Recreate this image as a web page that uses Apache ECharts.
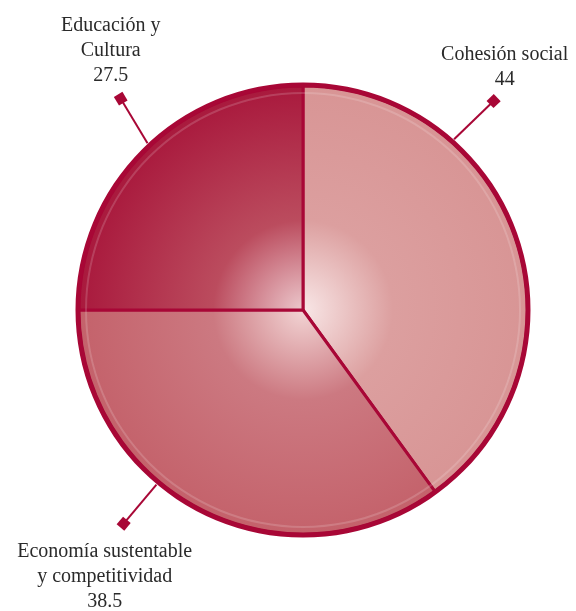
<!DOCTYPE html>
<html>
<head>
<meta charset="utf-8">
<script src="https://cdn.jsdelivr.net/npm/echarts@6/dist/echarts.min.js"></script>
<style>
  html, body { margin: 0; padding: 0; background: #fff; }
  #chart { width: 576px; height: 611px; }
</style>
</head>
<body>
<div id="chart"></div>
<script>
// Budget shares by axis
const categories = ['Cohesión social', 'Economía sustentable\ny competitividad', 'Educación y\nCultura'];
const values = [44, 38.5, 27.5];

// Slice colours: light tone at the centre, middle tone, outer tone
const glowColors = ['#f8e6e6', '#f2d4d4', '#ecc8cc'];
const midColors = ['#dc9f9f', '#cc7981', '#bb4c5e'];
const baseColors = ['#d89595', '#c4626b', '#a9193d'];
const edgeColor = '#a80736';

// Pie geometry (pixels)
const cx = 303, cy = 310, radius = 224;

// Callout leaders: where they leave the rim, which way they run, how long
const leaderStart = [41.5, 220, 317];   // degrees clockwise from 12 o'clock
const leaderDir = [46, 220, 329];
const leaderLen = [55, 51, 52];
// Label anchor relative to the leader's end
const labelOffset = [[11, -9, 'bottom'], [-19, 16, 'top'], [-10, -10, 'bottom']];

const rad = d => d * Math.PI / 180;
function leaderEnds(i) {
  const r0 = radius + 4;
  const x1 = cx + r0 * Math.sin(rad(leaderStart[i]));
  const y1 = cy - r0 * Math.cos(rad(leaderStart[i]));
  const x2 = x1 + leaderLen[i] * Math.sin(rad(leaderDir[i]));
  const y2 = y1 - leaderLen[i] * Math.cos(rad(leaderDir[i]));
  return [x1, y1, x2, y2];
}

const graphics = [];
categories.forEach((_, i) => {
  const [x1, y1, x2, y2] = leaderEnds(i);
  graphics.push({
    type: 'line', silent: true, z: 10,
    shape: { x1, y1, x2, y2 },
    style: { stroke: edgeColor, lineWidth: 2 }
  });
  graphics.push({
    type: 'rect', silent: true, z: 11,
    x: x2, y: y2, rotation: -rad(leaderDir[i]),
    shape: { x: -5, y: -5, width: 10, height: 10 },
    style: { fill: edgeColor }
  });
});

const chart = echarts.init(document.getElementById('chart'), null, { renderer: 'canvas' });

chart.setOption({
  animation: false,
  backgroundColor: '#ffffff',
  graphic: graphics,
  series: [
    {
      // Outer rim
      type: 'pie',
      silent: true,
      center: [cx, cy],
      radius: [radius - 1, radius + 3.5],
      startAngle: 90,
      label: { show: false },
      labelLine: { show: false },
      itemStyle: { color: edgeColor, borderWidth: 0 },
      data: [{ value: 1 }],
      z: 3
    },
    {
      type: 'pie',
      center: [cx, cy],
      radius: [0, radius],
      startAngle: 90,
      clockwise: true,
      avoidLabelOverlap: false,
      itemStyle: { borderColor: edgeColor, borderWidth: 3 },
      label: {
        show: true,
        position: 'outside',
        formatter: p => p.name + '\n' + p.value,
        fontFamily: 'Liberation Serif',
        fontSize: 20,
        lineHeight: 25,
        color: '#2a2a2a',
        align: 'center'
      },
      labelLine: { show: false },
      labelLayout: function (params) {
        const i = params.dataIndex;
        const e = leaderEnds(i);
        const o = labelOffset[i];
        return {
          x: e[2] + o[0],
          y: e[3] + o[1],
          align: 'center',
          verticalAlign: o[2]
        };
      },
      data: categories.map((name, i) => ({
        name: name,
        value: values[i],
        itemStyle: {
          color: {
            type: 'radial',
            x: cx, y: cy, r: radius,
            global: true,
            colorStops: [
              { offset: 0, color: glowColors[i] },
              { offset: 0.4, color: midColors[i] },
              { offset: 1, color: baseColors[i] }
            ]
          }
        }
      })),
      z: 2
    },
    {
      // Soft bevel just inside the rim
      type: 'pie',
      silent: true,
      center: [cx, cy],
      radius: [radius - 8, radius - 6],
      startAngle: 90,
      label: { show: false },
      labelLine: { show: false },
      itemStyle: { color: 'rgba(255,255,255,0.16)', borderWidth: 0 },
      data: [{ value: 1 }],
      z: 4
    }
  ]
});
</script>
</body>
</html>
